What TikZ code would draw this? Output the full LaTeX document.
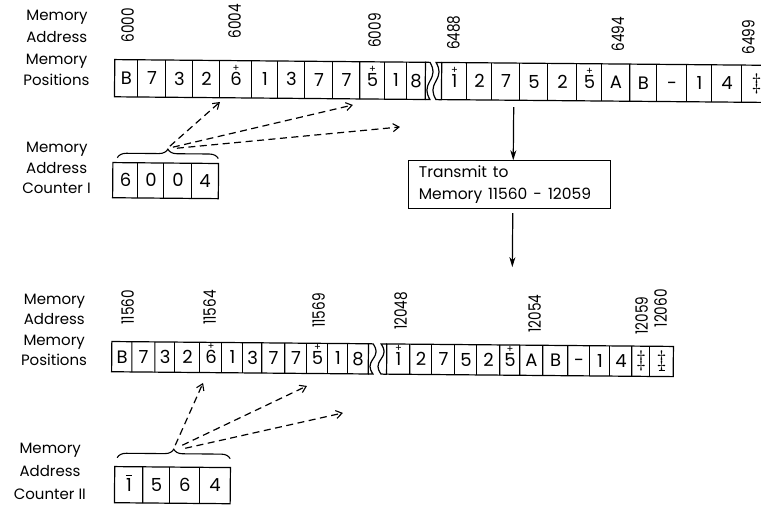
\documentclass[tikz,border=0pt]{standalone}
\usepackage{fontspec}
\usepackage{graphicx}
\setmainfont{Poppins}[Numbers=Monospaced]
\usetikzlibrary{arrows.meta,decorations.pathreplacing}
\newcommand{\pl}[1]{\ooalign{#1\cr\hidewidth\raisebox{14pt}{\fontsize{10}{10}\selectfont +}\hidewidth\cr}}
\newcommand{\ovb}[1]{\ooalign{#1\cr\hidewidth\raisebox{15pt}{\rule{6pt}{1.4pt}}\hidewidth\cr}}
\newcommand{\dgr}{\raisebox{1pt}{\scalebox{1.3}{$\ddagger$}}}
\newcommand{\dgrb}{\ooalign{\dgr\cr\hidewidth\raisebox{-3pt}{\rule{6pt}{1.1pt}}\hidewidth\cr}}
\newcommand{\ad}[1]{\scalebox{0.88}[1.1]{#1}}
\newcommand{\mcell}[6]{\node[cellbox, minimum width={(#3-#2)*1pt}, minimum height={(#5-#4)*1pt}] (#1) at ({(#2+#3)/2},{(#4+#5)/2}) {#6};}
% start anchor, wave x, top y, bottom y, end anchor
\newcommand{\wavyedge}[5]{\draw[edge] (#1) -- (#2,#3) .. controls ({#2+4},{#3+0.2*(#4-#3)}) and ({#2+4},{#3+0.3*(#4-#3)}) .. (#2,{(#3+#4)/2}) .. controls ({#2-4},{#3+0.7*(#4-#3)}) and ({#2-4},{#3+0.8*(#4-#3)}) .. (#2,#4) -- (#5);}
% outline of a row of cells: prefix, last index
\newcommand{\rowframe}[2]{\draw[edge] (#11.north west) rectangle (#1#2.south east);
  \foreach \j in {2,...,#2}{\draw[edge] (#1\j.north west) -- (#1\j.south west);}}
\tikzset{
  cellbox/.style={inner sep=0pt, font=\fontsize{18}{18}\selectfont, text height=12.5pt, text depth=0pt},
  edge/.style={line width=1.2pt},
  lbl/.style={font=\fontsize{15}{15}\selectfont, inner sep=0pt, anchor=base},
  addr/.style={font=\fontsize{15.5}{15.5}\selectfont, rotate=90, anchor=west, inner sep=0pt, text height=12pt, text depth=0pt},
  dasharrow/.style={line width=1.2pt, dash pattern=on 7pt off 4.5pt, -{Straight Barb[length=6pt,width=8pt,line width=1.1pt]}},
  vline/.style={line width=1.2pt, -{Stealth[length=10pt,width=6pt,inset=3pt]}},
  bracestyle/.style={line width=1.1pt, decorate, decoration={brace, amplitude=9pt}}
}
\begin{document}
\begin{tikzpicture}[x=1pt,y=-1pt]
\useasboundingbox (0,0) rectangle (761,506);
\clip (0,0) rectangle (761,506);
\begin{scope}[rotate around={-0.5:(380,250)}]
% ---------- top block labels
\node[lbl] (tl1) at (55,23) {Memory};
\node[lbl] (tl2) at (55,45) {Address};
\node[lbl] (tl3) at (55,67) {Memory};
\node[lbl] (tl4) at (55,88) {Positions};
% addresses
\node[addr] (a6000) at (126,45) {\ad{6000}};
\node[addr] (a6004) at (233,40) {\ad{6004}};
\node[addr] (a6009) at (373,48) {\ad{6009}};
\node[addr] (a6488) at (452,49.5) {\ad{6488}};
\node[addr] (a6494) at (616.5,49.5) {\ad{6494}};
\node[addr] (a6499) at (747,51.5) {\ad{6499}};
% top row, segment 1
\foreach \i/\a/\b/\cont in {1/113.5/136.5/B, 2/136.5/164.5/7, 3/164.5/191.5/3, 4/191.5/218.5/2, 5/218.5/250.5/{\pl{6}}, 6/250.5/276.5/1, 7/276.5/303.5/3, 8/303.5/331.5/7, 9/331.5/358.5/7, 10/358.5/383.5/{\pl{5}}, 11/383.5/405.5/1, 12/405.5/423.5/8}
  {\mcell{t\i}{\a}{\b}{62}{99}{\cont}}
\rowframe{t}{12}
% top row, segment 2
\foreach \i/\a/\b/\cont in {1/440.5/465.5/{\pl{1}}, 2/465.5/490.5/2, 3/490.5/518.5/7, 4/518.5/546.5/5, 5/546.5/575.5/2, 6/575.5/600.5/{\pl{5}}, 7/600.5/628.5/A, 8/628.5/655.5/B, 9/655.5/685.5/-, 10/685.5/710.5/1, 11/710.5/740.5/4, 12/740.5/770/{\dgr}}
  {\mcell{u\i}{\a}{\b}{62}{99}{\cont}}
\rowframe{u}{12}
\wavyedge{t12.north east}{428.5}{62}{99}{t12.south east}
\wavyedge{u1.north west}{434.5}{62}{99}{u1.south west}
% ---------- counter I
\node[lbl] (cl1) at (56,155) {Memory};
\node[lbl] (cl2) at (56,176) {Address};
\node[lbl] (cl3) at (56,196) {Counter I};
\foreach \i/\a/\b/\cont in {1/112.5/137.5/6, 2/137.5/163.5/0, 3/163.5/191.5/0, 4/191.5/217.5/4}
  {\mcell{k\i}{\a}{\b}{165}{200}{\cont}}
\rowframe{k}{4}
\draw[bracestyle] (116.5,160) -- (217.5,160);
\coordinate (s1) at (169,148);
\coordinate (s2) at (172,149);
\coordinate (s3) at (176,150);
\coordinate (e1) at (218.7,103.4);
\coordinate (e2) at (351.7,105.2);
\coordinate (e3) at (398.9,126.8);
\draw[dasharrow] (s1) -- (e1);
\draw[dasharrow] (s2) -- (e2);
\draw[dasharrow] (s3) -- (e3);
% ---------- transmit box
\node[draw, line width=1.2pt, anchor=north west, minimum height=48pt, text width=182pt, inner xsep=10pt, align=left, font=\fontsize{15.5}{22.5}\selectfont] (tx) at (407.5,160) {\spaceskip=6pt plus 1pt\relax Transmit to\\Memory 11560 - 12059};
\coordinate (v1) at (512.5,106);
\draw[vline] (v1) -- (v1 |- tx.north);
\coordinate (v2s) at (512.5,212);
\coordinate (v2) at (512.5,266);
\draw[vline] (v2s) -- (v2);
% ---------- bottom block labels
\node[lbl] (bl1) at (55,307) {Memory};
\node[lbl] (bl2) at (55,327) {Address};
\node[lbl] (bl3) at (55,348) {Memory};
\node[lbl] (bl4) at (55,368) {Positions};
\node[addr] (a11560) at (128.5,327) {\ad{11560}};
\node[addr] (a11564) at (210.5,326.5) {\ad{11564}};
\node[addr] (a11569) at (319.5,328.5) {\ad{11569}};
\node[addr] (a12048) at (401.5,330) {\ad{12048}};
\node[addr] (a12054) at (535.5,331.5) {\ad{12054}};
\node[addr] (a12059) at (642.5,332.5) {\ad{12059}};
\node[addr] (a12060) at (661.5,325) {\ad{12060}};
\foreach \i/\a/\b/\cont in {1/113/133/B, 2/133/156/7, 3/156/176/3, 4/176/201/2, 5/201/223/{\pl{6}}, 6/223/244/1, 7/244/263/3, 8/263/286/7, 9/286/308/7, 10/308/329/{\pl{5}}, 11/329/349/1, 12/349/369/8}
  {\mcell{p\i}{\a}{\b}{344}{374}{\cont}}
\rowframe{p}{12}
\foreach \i/\a/\b/\cont in {1/388/411/{\pl{1}}, 2/411/433/2, 3/433/456/7, 4/456/478/5, 5/478/501/2, 6/501/521/{\pl{5}}, 7/521/544/A, 8/544/569/B, 9/569/591/-, 10/591/611/1, 11/611/633/4, 12/633/651/{\dgr}, 13/651/674/{\dgrb}}
  {\mcell{q\i}{\a}{\b}{344}{374}{\cont}}
\rowframe{q}{13}
\wavyedge{p12.north east}{374}{344}{374}{p12.south east}
\wavyedge{q1.north west}{382}{344}{374}{q1.south west}
% ---------- counter II
\node[lbl] (dl1) at (52,456) {Memory};
\node[lbl] (dl2) at (52,479) {Address};
\node[lbl] (dl3) at (52,502) {Counter II};
\foreach \i/\a/\b/\cont in {1/117/145/{\ovb{1}}, 2/145/172/5, 3/172/202/6, 4/202/232/4}
  {\mcell{m\i}{\a}{\b}{469}{505}{\cont}}
\rowframe{m}{4}
\draw[bracestyle] (119,460) -- (232,460);
\coordinate (r1) at (177,447);
\coordinate (r2) at (184,447);
\coordinate (r3) at (187,450);
\coordinate (f1) at (204.2,384.5);
\coordinate (f2) at (308.2,386.6);
\coordinate (f3) at (344.4,413.3);
\draw[dasharrow] (r1) -- (f1);
\draw[dasharrow] (r2) -- (f2);
\draw[dasharrow] (r3) -- (f3);
\end{scope}
\end{tikzpicture}
\end{document}
